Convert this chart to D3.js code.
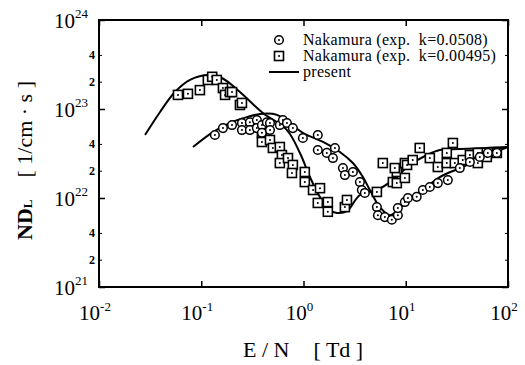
<!DOCTYPE html>
<html>
<head>
<meta charset="utf-8">
<script src="https://cdn.jsdelivr.net/npm/d3@7"></script>
<style>
  body { margin: 0; background: #fff; }
</style>
</head>
<body>
<div id="chart"></div>
<script>
// datos: E/N [Td] y ND_L [1/cm s]
const circleEN = [0.136, 0.163, 0.200, 0.250, 0.250, 0.299, 0.299, 0.350, 0.350, 0.392, 0.392, 0.438, 0.470, 0.470, 0.587, 0.629, 0.689, 0.787, 0.986,
  1.38, 1.38, 1.69, 2.03, 1.94, 2.43, 2.54, 3.04, 3.56, 3.72, 3.98, 5.22, 5.34, 6.25, 7.31, 8.37, 8.37, 9.80, 10.5, 12.8, 14.7, 17.2, 20.6, 25.8,
  33.8, 42.4, 53.0, 63.5, 77.8];
const circleND = [5.1e22, 6.1e22, 6.6e22, 6.97e22, 5.8e22, 7.1e22, 5.8e22, 7.5e22, 6.1e22, 6.6e22, 5.4e22, 7.1e22, 6.97e22, 5.8e22, 6.6e22, 7.5e22, 6.97e22, 6.1e22, 4.72e22,
  5.1e22, 3.46e22, 3.21e22, 3.65e22, 2.81e22, 2.17e22, 1.81e22, 1.96e22, 1.51e22, 1.23e22, 1.14e22, 7.9e21, 6.4e21, 6.1e21, 5.7e21, 6.4e21, 7.7e21, 9.0e21, 1.0e22, 1.03e22, 1.23e22, 1.33e22, 1.47e22, 1.59e22,
  2.17e22, 2.54e22, 2.89e22, 3.21e22, 3.21e22];

const squareEN = [0.0592, 0.0741, 0.097, 0.116, 0.128, 0.142, 0.163, 0.171, 0.191, 0.200, 0.239, 0.250, 0.335, 0.392, 0.392, 0.470, 0.502, 0.587, 0.615, 0.587, 0.705, 0.787, 0.771,
  1.03, 1.03, 1.24, 1.45, 1.38, 1.73, 1.73, 2.54, 2.66, 5.22, 5.97, 7.48, 8.18, 8.18, 7.82, 9.80, 9.80, 10.3, 11.7, 13.7, 17.2, 20.6, 25.2, 25.2, 28.9, 30.2,
  36.1, 42.4, 50.7, 50.7, 62.1, 77.8];
const squareND = [1.44e23, 1.48e23, 1.63e23, 2.12e23, 2.3e23, 2.12e23, 1.72e23, 1.44e23, 1.55e23, 1.55e23, 1.11e23, 1.17e23, 6.6e22, 5.4e22, 4.26e22, 4.49e22, 3.65e22, 3.74e22, 3.04e22, 2.47e22, 2.81e22, 2.35e22, 1.91e22,
  1.96e22, 1.51e22, 1.23e22, 1.29e22, 8.8e21, 9.0e21, 7.0e21, 7.9e21, 9.5e21, 1.17e22, 2.47e22, 1.51e22, 1.96e22, 1.47e22, 2.17e22, 1.68e22, 2.47e22, 2.35e22, 2.67e22, 3.65e22, 2.81e22, 2.23e22, 2.47e22, 3.21e22, 4.15e22, 2.47e22,
  2.67e22, 3.04e22, 3.21e22, 2.47e22, 2.89e22, 3.21e22];

// curvas "present"
const curveLowEN = [0.0282, 0.0394, 0.0553, 0.0776, 0.114, 0.159, 0.239, 0.401, 0.689, 0.923, 1.156, 1.446, 1.81, 2.12, 2.66, 3.56, 5.22, 7.48, 10.96, 16.1, 21.5, 33.8, 59.3, 99.6];
const curveLowND = [5.1e22, 9.2e22, 1.55e23, 2.12e23, 2.41e23, 2.23e23, 1.55e23, 9.0e22, 5.8e22, 3.2e22, 1.72e22, 1.03e22, 7.3e21, 6.8e21, 7.1e21, 1.08e22, 1.23e22, 1.59e22, 2.35e22, 3.04e22, 3.46e22, 3.55e22, 3.65e22, 3.74e22];
const curveHighEN = [0.083, 0.130, 0.191, 0.280, 0.375, 0.550, 0.986, 1.55, 2.27, 3.04, 3.81, 4.46, 5.58, 7.0, 8.75, 10.96, 14.7, 21.5, 36.1, 56.7, 83.2, 99.6];
const curveHighND = [3.74e22, 5.5e22, 6.97e22, 8.1e22, 8.8e22, 8.6e22, 5.4e22, 4.26e22, 3.29e22, 2.47e22, 1.72e22, 1.23e22, 7.9e21, 6.4e21, 7.7e21, 9.5e21, 1.23e22, 1.72e22, 2.23e22, 2.89e22, 3.46e22, 3.74e22];

const xTickExps = [-2, -1, 0, 1, 2];
const yTickExps = [21, 22, 23, 24];
const yMinorMults = [2, 4];
const legendLabels = ["Nakamura (exp.  k=0.0508)", "Nakamura (exp.  k=0.00495)", "present"];

const width = 525, height = 365;
const svg = d3.select("#chart").append("svg")
  .attr("width", width).attr("height", height)
  .attr("font-family", "'Liberation Serif', 'Times New Roman', 'DejaVu Serif', serif");

const x = d3.scaleLog().domain([1e-2, 1e2]).range([99, 508]);
const y = d3.scaleLog().domain([1e21, 1e24]).range([287, 20]);

// ticks hacia adentro
const xAxisB = d3.axisBottom(x).tickValues(xTickExps.map(e => Math.pow(10, e))).tickSize(-6).tickFormat("");
const xAxisT = d3.axisTop(x).tickValues(xTickExps.map(e => Math.pow(10, e))).tickSize(-6).tickFormat("");
const yMajor = yTickExps.map(e => Math.pow(10, e));
const yMinor = [];
yTickExps.slice(0, -1).forEach(e => yMinorMults.forEach(m => yMinor.push(m * Math.pow(10, e))));
const yAxisL = d3.axisLeft(y).tickValues(yMajor).tickSize(-6).tickFormat("");
const yAxisR = d3.axisRight(y).tickValues(yMajor).tickSize(-6).tickFormat("");

[[xAxisB, "translate(0,287)"], [xAxisT, "translate(0,20)"], [yAxisL, "translate(99,0)"], [yAxisR, "translate(508,0)"]].forEach(([ax, t]) => {
  const g = svg.append("g").attr("transform", t).call(ax);
  g.select(".domain").remove();
  g.selectAll("line").attr("stroke", "#000").attr("stroke-width", 1.5);
});
svg.append("g").selectAll("line").data(yMinor).enter().append("line")
  .attr("x1", 99).attr("x2", 102).attr("y1", d => y(d)).attr("y2", d => y(d))
  .attr("stroke", "#000").attr("stroke-width", 1);
svg.append("g").selectAll("line").data(yMinor).enter().append("line")
  .attr("x1", 508).attr("x2", 505).attr("y1", d => y(d)).attr("y2", d => y(d))
  .attr("stroke", "#000").attr("stroke-width", 1);

// marco
svg.append("rect").attr("x", 99).attr("y", 20).attr("width", 409).attr("height", 267)
  .attr("fill", "none").attr("stroke", "#000").attr("stroke-width", 2);

// etiquetas del eje x
const xl = svg.append("g").selectAll("text").data(xTickExps).enter().append("text")
  .attr("x", d => x(Math.pow(10, d)) - 4).attr("y", 320)
  .attr("text-anchor", "middle").attr("font-size", 21);
xl.append("tspan").text("10");
xl.append("tspan").attr("dy", -9).attr("font-size", 13).text(d => d);

// etiquetas del eje y
const yl = svg.append("g").selectAll("text").data(yTickExps).enter().append("text")
  .attr("x", 88).attr("y", d => y(Math.pow(10, d)) + 8)
  .attr("text-anchor", "end").attr("font-size", 21);
yl.append("tspan").text("10");
yl.append("tspan").attr("dy", -10).attr("font-size", 13).text(d => d);

svg.append("g").selectAll("text").data(yMinor).enter().append("text")
  .attr("x", 95).attr("y", d => y(d) + 4)
  .attr("text-anchor", "end").attr("font-size", 12).attr("font-weight", "bold")
  .text(d => Math.round(d / Math.pow(10, Math.floor(Math.log10(d)))));

// titulos de ejes
const xt = svg.append("text").attr("x", 243).attr("y", 357).attr("font-size", 22);
xt.append("tspan").text("E / N");
xt.append("tspan").attr("dx", 24).text("[ Td ]");

const yt = svg.append("text").attr("transform", "translate(32,240) rotate(-90)").attr("font-size", 22);
yt.append("tspan").attr("font-weight", "bold").text("ND");
yt.append("tspan").attr("font-size", 13).attr("font-weight", "bold").text("L");
yt.append("tspan").attr("dx", 22).text("[ 1/cm · s ]");

// curvas
const line = d3.line().x(d => x(d[0])).y(d => y(d[1])).curve(d3.curveCatmullRom.alpha(0.5));
[[curveLowEN, curveLowND], [curveHighEN, curveHighND]].forEach(([en, nd]) => {
  svg.append("path").datum(en.map((v, i) => [v, nd[i]]))
    .attr("d", line).attr("fill", "none").attr("stroke", "#000").attr("stroke-width", 2);
});

// marcadores
function drawSquare(g, cx, cy) {
  g.append("rect").attr("x", cx - 4.5).attr("y", cy - 4.5).attr("width", 9).attr("height", 9)
    .attr("fill", "#fff").attr("stroke", "#000").attr("stroke-width", 1.6);
  g.append("circle").attr("cx", cx).attr("cy", cy).attr("r", 1).attr("fill", "#000");
}
function drawCircle(g, cx, cy) {
  g.append("circle").attr("cx", cx).attr("cy", cy).attr("r", 4.3)
    .attr("fill", "#fff").attr("stroke", "#000").attr("stroke-width", 1.5);
  g.append("circle").attr("cx", cx).attr("cy", cy).attr("r", 1).attr("fill", "#000");
}
const sq = svg.append("g");
squareEN.forEach((v, i) => drawSquare(sq, x(v), y(squareND[i])));
const ci = svg.append("g");
circleEN.forEach((v, i) => drawCircle(ci, x(v), y(circleND[i])));

// leyenda
const lg = svg.append("g");
drawCircle(lg, 279, 40);
drawSquare(lg, 279, 56);
lg.append("line").attr("x1", 269).attr("x2", 299).attr("y1", 72).attr("y2", 72)
  .attr("stroke", "#000").attr("stroke-width", 2);
lg.selectAll("text").data(legendLabels).enter().append("text")
  .attr("x", 303).attr("y", (d, i) => 45 + i * 16)
  .attr("font-size", 16).attr("letter-spacing", 0.3).attr("xml:space", "preserve")
  .text(d => d);
</script>
</body>
</html>
